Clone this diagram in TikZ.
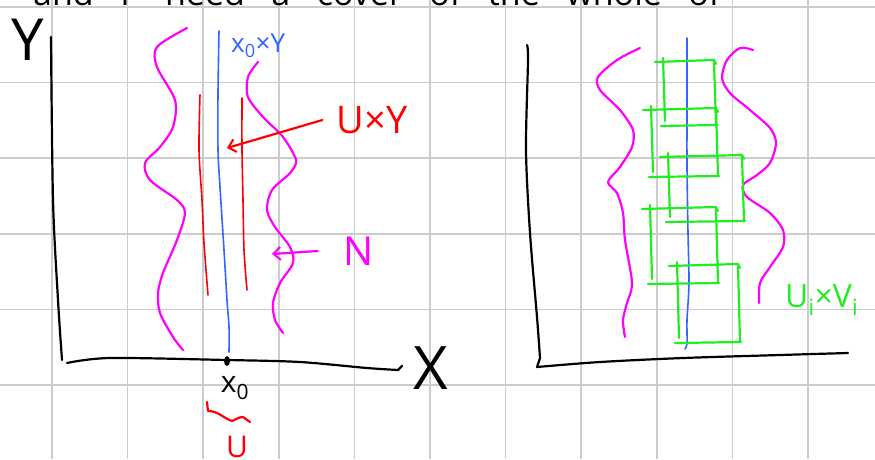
\documentclass[tikz,border=0pt]{standalone}
\usepackage{fontspec}
\setmainfont{Open Sans}
\usetikzlibrary{arrows.meta}

\definecolor{penmag}{RGB}{255,0,255}
\definecolor{penred}{RGB}{255,0,0}
\definecolor{penblue}{RGB}{51,102,255}
\definecolor{pengreen}{RGB}{34,236,34}

\begin{document}
\begin{tikzpicture}[x=1pt, y=-1pt,
  gridline/.style={draw=black!20, line width=1.6pt},
  ink/.style={line width=2.2pt, line cap=round, line join=round},
  thin ink/.style={line width=1.6pt, line cap=round, line join=round},
  hand/.style={inner sep=0pt, font=\fontsize{#1}{#1}\selectfont},
  barb/.style={-{Straight Barb[length=7pt,width=13pt,line width=2pt]}}]
  \useasboundingbox (0,0) rectangle (875,459);
  \clip (0,0) rectangle (875,459);
  \fill[white] (0,0) rectangle (875,459);
  % squared paper
  \foreach \i in {0,...,10}{ \draw[gridline] ({52+75.6*\i},0) -- ++(0,459); }
  \foreach \j in {0,...,5}{ \draw[gridline] (0,{7+75.6*\j}) -- ++(875,0); }
  % the line above, cut off by the page
  \node[hand=34, anchor=base west] (toptext) at (33,5)
    {and\ \ \ I\ \ \ \ need\ \ \ a\ \ \ cover\ \ \ of\ \ \ the\ \ \ whole\ \ \ of};

  % ---- left picture ----
  \draw[ink] plot[smooth] coordinates {(51,37) (53,200) (58,300) (62,360)};
  \draw[ink] plot[smooth] coordinates {(67,363) (110,358) (227,360) (300,362) (367,368) (398,370)} -- (402,366);
  \node[hand=58] (Ylab) at (28,40) {Y};
  \node[hand=60] (Xlab) at (431,368) {X};
  \fill (227,361) ellipse (3pt and 5pt);
  \coordinate (x0) at (227,361);
  \node[hand=30] (x0lab) at (235,388) {x\textsubscript{0}};
  \draw[ink, penred] (207,402) -- (208,411) to[out=0,in=160] (232,421) to[out=20,in=180] (243,417) -- (250,422);
  \node[hand=30, text=penred] (Ulab) at (237,447) {U};

  \draw[ink, penmag] plot[smooth] coordinates {(187,28) (157,47) (157,67) (175,100) (173,127) (160,147) (145,163)
    (150,180) (177,200) (185,213) (177,240) (163,273) (158,293) (160,313) (173,337) (183,350)};
  \draw[ink, penmag] plot[smooth] coordinates {(258,62) (248,77) (248,97) (263,117) (283,137) (296,160) (290,173)
    (272,190) (267,210) (275,227) (290,247) (293,263) (280,283) (273,303) (275,320) (283,333)};
  \draw[thin ink, penred] plot[smooth] coordinates {(200,95) (199,150) (202,200) (204,243) (208,295)};
  \draw[thin ink, penred] plot[smooth] coordinates {(242,98) (242,150) (243,200) (244,250) (247,290)};
  \draw[thin ink, penblue] plot[smooth] coordinates {(219,31) (218,93) (218,150) (220,187) (224,250) (227,300) (229,327) (229,352)};
  \node[hand=26, text=penblue, anchor=west] (bluelab) at (231,46) {x\textsubscript{0}×Y};

  \node[hand=38, text=penred, inner xsep=14pt] (uylab) at (372,120) {U×Y};
  \coordinate (uytip) at (227,148);
  \draw[ink, penred, barb] (uylab.west) -- (uytip);
  \node[hand=40, text=penmag, inner xsep=26pt] (nlab) at (359,251) {N};
  \coordinate (ntip) at (272,254);
  \draw[ink, penmag, barb] (nlab.west) -- (ntip);

  % ---- right picture ----
  \draw[ink] plot[smooth] coordinates {(527,45) (528,60) (526,150) (530,233) (537,317) (540,358)} -- (537,367);
  \draw[ink] plot[smooth] coordinates {(537,367) (600,362) (683,358) (780,355) (848,353)};
  \draw[ink, penmag] plot[smooth] coordinates {(640,48) (617,60) (598,77) (600,90) (620,110) (633,130) (632,147)
    (620,167) (608,182) (617,193) (623,213) (625,240) (632,283) (627,303) (623,320) (625,337)};
  \draw[ink, penmag] plot[smooth] coordinates {(753,50) (740,48) (727,60) (722,78) (730,93) (750,110) (770,128)
    (776,143) (770,163) (757,175) (743,185) (747,197) (770,213) (783,230) (783,247) (770,267) (760,283) (759,303)};
  \draw[thin ink, penblue] plot[smooth] coordinates {(687,38) (687,100) (687,167) (688,233) (689,283) (687,320) (687,343) (685,349)};
  % the small boxes U_i x V_i
  \foreach \l/\t/\r/\b in {663/61/714/125, 651/109/716/176, 668/156/742/221, 650/208/716/283, 677/265/738/342}{
    \draw[ink, pengreen] (\l-8,\t+1) -- (\r,\t-1) -- (\r+2,\t+3);
    \draw[ink, pengreen] (\l,\t-3) -- (\l+2,\b-4);
    \draw[ink, pengreen] (\r,\t+1) -- (\r+2,\b);
    \draw[ink, pengreen] (\l-2,\b+1) -- (\r+3,\b);
  }
  \node[hand=32, text=pengreen, anchor=west] (uvlab) at (785,300) {U\textsubscript{i}×V\textsubscript{i}};
\end{tikzpicture}
\end{document}
